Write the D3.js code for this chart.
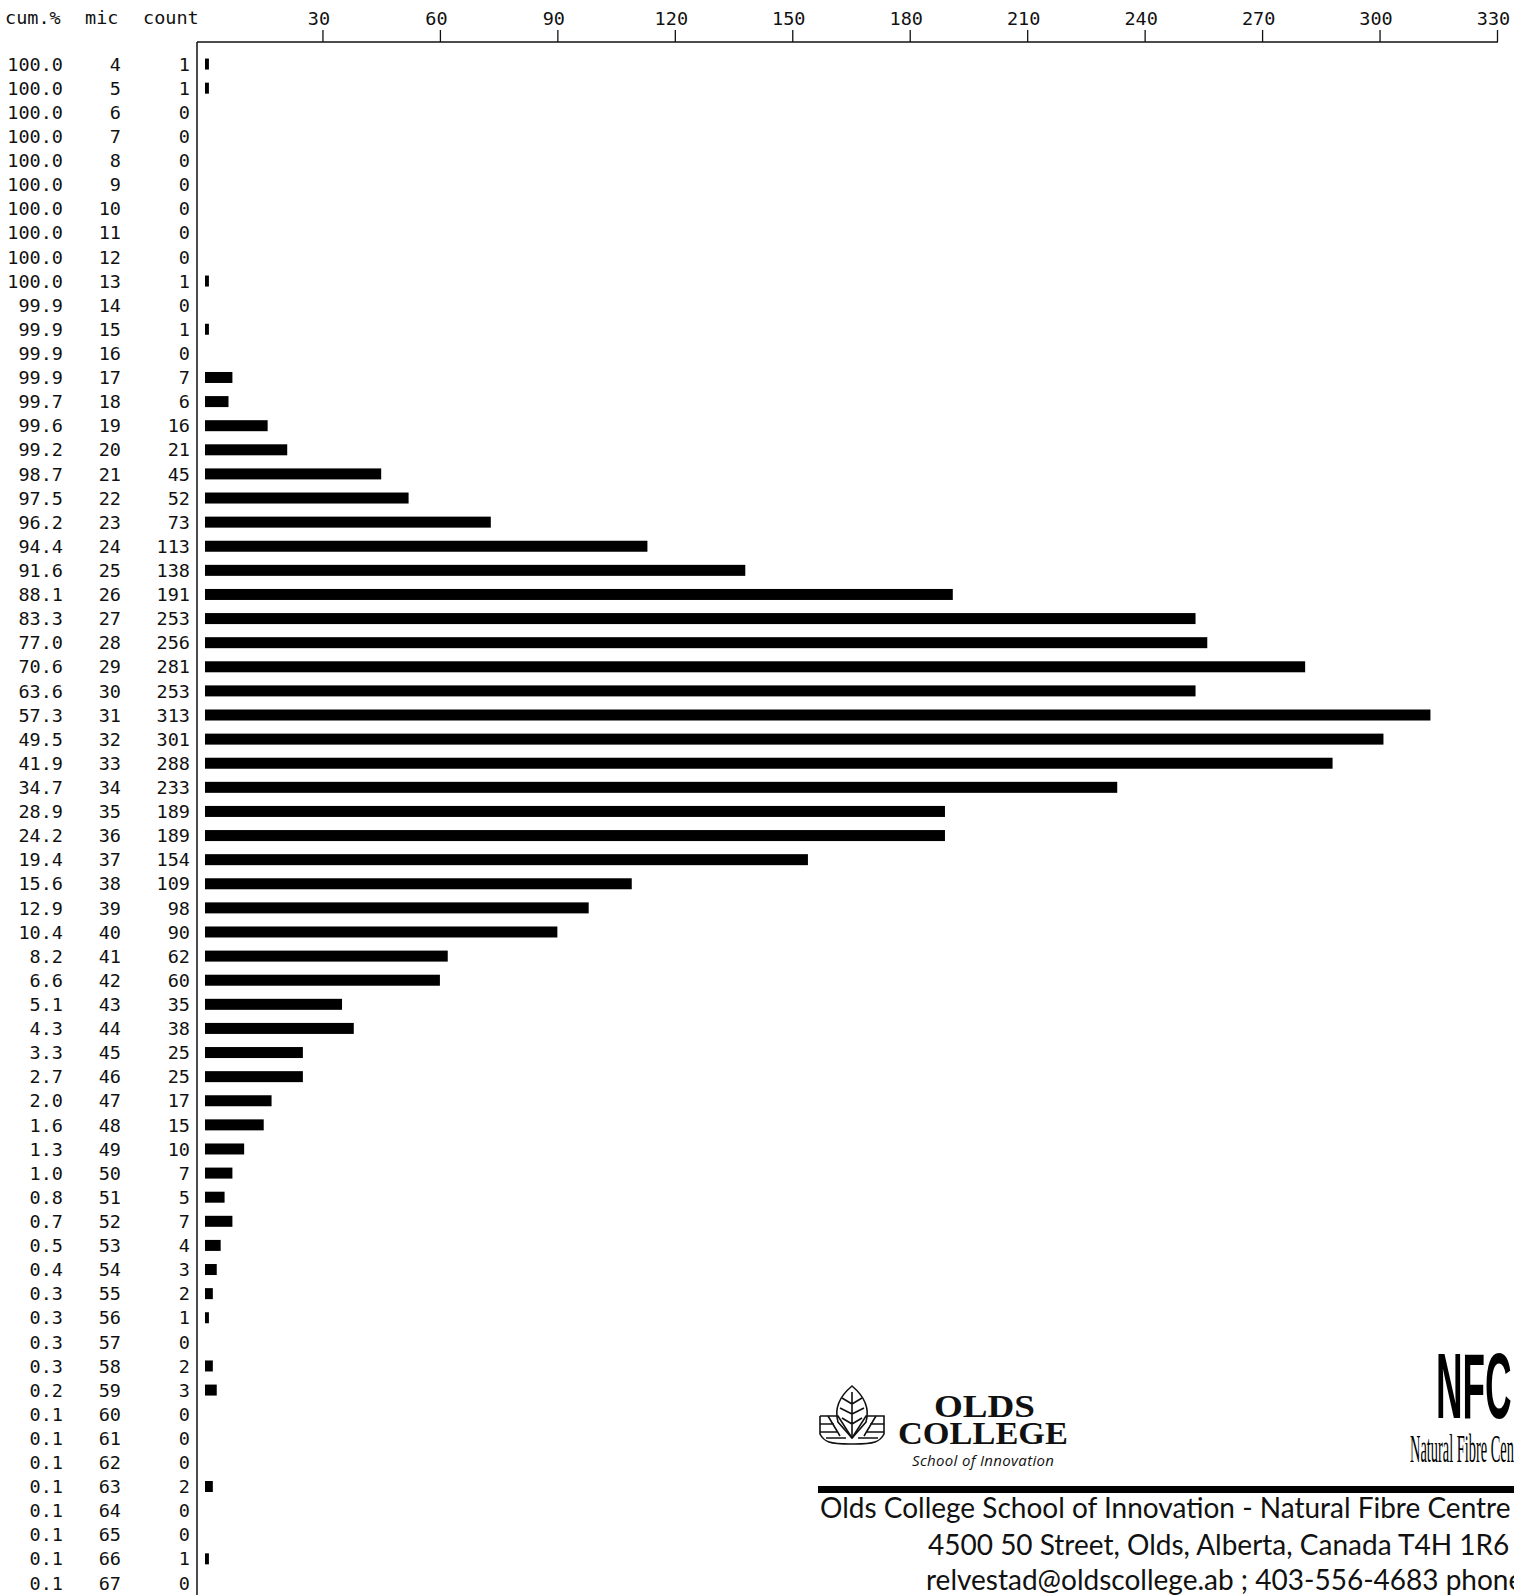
<!DOCTYPE html>
<html>
<head>
<meta charset="utf-8">
<script src="https://cdn.jsdelivr.net/npm/d3@7"></script>
<style>
  body { margin: 0; background: #fff; }
  svg { display: block; }
  .mono { font-family: "DejaVu Sans Mono", monospace; font-size: 18.5px; fill: #111; }
</style>
</head>
<body>
<svg id="chart" width="1514" height="1595"></svg>
<script>
// histogram rows: fibre diameter (mic), count per class, cumulative %
const mics = d3.range(4, 68);
const counts = [1, 1, 0, 0, 0, 0, 0, 0, 0, 1, 0, 1, 0, 7, 6, 16, 21, 45, 52, 73,
  113, 138, 191, 253, 256, 281, 253, 313, 301, 288, 233, 189, 189, 154, 109, 98,
  90, 62, 60, 35, 38, 25, 25, 17, 15, 10, 7, 5, 7, 4, 3, 2, 1, 0, 2, 3,
  0, 0, 0, 2, 0, 0, 1, 0];
const cumPct = [100.0, 100.0, 100.0, 100.0, 100.0, 100.0, 100.0, 100.0, 100.0, 100.0,
  99.9, 99.9, 99.9, 99.9, 99.7, 99.6, 99.2, 98.7, 97.5, 96.2, 94.4, 91.6, 88.1,
  83.3, 77.0, 70.6, 63.6, 57.3, 49.5, 41.9, 34.7, 28.9, 24.2, 19.4, 15.6, 12.9,
  10.4, 8.2, 6.6, 5.1, 4.3, 3.3, 2.7, 2.0, 1.6, 1.3, 1.0, 0.8, 0.7, 0.5, 0.4,
  0.3, 0.3, 0.3, 0.3, 0.2, 0.1, 0.1, 0.1, 0.1, 0.1, 0.1, 0.1, 0.1];
const xTicks = [30, 60, 90, 120, 150, 180, 210, 240, 270, 300, 330];

const rows = mics.map((m, i) => ({ mic: m, count: counts[i], cum: cumPct[i] }));

const svg = d3.select("#chart");

const x = d3.scaleLinear().domain([0, 330]).range([205, 1497]);
const y = d3.scaleBand().domain(mics).range([52, 1595]);
const barH = 11;
const axisX = 197, axisY = 42;

// headers
svg.append("text").attr("class", "mono").attr("x", 5).attr("y", 24).text("cum.%");
svg.append("text").attr("class", "mono").attr("x", 85).attr("y", 24).text("mic");
svg.append("text").attr("class", "mono").attr("x", 143).attr("y", 24).text("count");

// top axis with ticks pointing up
const axis = d3.axisTop(x).tickValues(xTicks).tickSize(12).tickPadding(5);
const ag = svg.append("g").attr("transform", `translate(0,${axisY})`).call(axis);
ag.select(".domain").attr("d", `M${axisX},0H1498`).attr("stroke", "#111").attr("stroke-width", 1.5);
ag.selectAll(".tick line").attr("stroke", "#111").attr("stroke-width", 1.3);
ag.selectAll(".tick text")
  .attr("font-family", "DejaVu Sans Mono, monospace")
  .attr("font-size", 18.5)
  .attr("fill", "#111")
  .attr("dx", -4);

// left vertical axis
svg.append("line")
  .attr("x1", axisX).attr("x2", axisX)
  .attr("y1", axisY).attr("y2", 1595)
  .attr("stroke", "#111").attr("stroke-width", 1.5);

const cy = d => y(d.mic) + y.bandwidth() / 2;

// table columns
const tg = svg.append("g").attr("class", "mono").attr("text-anchor", "end");
tg.selectAll("text.cum").data(rows).enter().append("text")
  .attr("x", 63).attr("y", cy).attr("dy", "0.36em")
  .text(d => d.cum.toFixed(1));
tg.selectAll("text.mic").data(rows).enter().append("text")
  .attr("x", 121).attr("y", cy).attr("dy", "0.36em")
  .text(d => d.mic);
tg.selectAll("text.cnt").data(rows).enter().append("text")
  .attr("x", 190).attr("y", cy).attr("dy", "0.36em")
  .text(d => d.count);

// bars
svg.append("g").selectAll("rect").data(rows.filter(d => d.count > 0)).enter().append("rect")
  .attr("x", x(0))
  .attr("y", d => cy(d) - barH / 2)
  .attr("width", d => Math.max(3.5, x(d.count) - x(0)))
  .attr("height", barH)
  .attr("fill", "#000");

// ---- footer: Olds College logo ----
const logo = svg.append("g").attr("transform", "translate(820,1386)")
  .attr("fill", "none").attr("stroke", "#111").attr("stroke-width", 1.6);
logo.append("path").attr("d", "M32,0 C20,10 14,22 18,36 L32,52 L46,36 C50,22 44,10 32,0 Z");
logo.append("path").attr("d", "M32,6 V52 M32,18 L22,12 M32,18 L42,12 M32,28 L20,22 M32,28 L44,22 M32,38 L22,32 M32,38 L42,32");
logo.append("path").attr("d", "M0,30 H18 L32,52 M0,30 V48 C4,56 10,58 30,58 H34 C54,58 60,56 64,48 V30 H46 L32,52");
logo.append("path").attr("d", "M0,38 H14 M0,46 H18 M64,38 H50 M64,46 H46 M6,52 H26 M58,52 H38 M8,30 L20,50 M56,30 L44,50");

svg.append("text").attr("x", 934).attr("y", 1417)
  .attr("font-family", "Liberation Serif, serif").attr("font-weight", "bold")
  .attr("font-size", 31).attr("textLength", 101).attr("lengthAdjust", "spacingAndGlyphs")
  .attr("fill", "#111").text("OLDS");
svg.append("text").attr("x", 898).attr("y", 1444)
  .attr("font-family", "Liberation Serif, serif").attr("font-weight", "bold")
  .attr("font-size", 31).attr("textLength", 170).attr("lengthAdjust", "spacingAndGlyphs")
  .attr("fill", "#111").text("COLLEGE");
svg.append("text").attr("x", 912).attr("y", 1466)
  .attr("font-family", "Open Sans, sans-serif").attr("font-style", "italic")
  .attr("font-size", 15).attr("textLength", 142).attr("fill", "#111").text("School of Innovation");

// ---- NFC logo (cut at page edge) ----
svg.append("text")
  .attr("transform", "translate(1436,1418) scale(0.4,1)")
  .attr("font-family", "Liberation Sans, sans-serif").attr("font-weight", "bold")
  .attr("font-size", 92).attr("fill", "#000").text("NFC");
svg.append("text")
  .attr("transform", "translate(1410,1462) scale(0.36,1)")
  .attr("font-family", "Liberation Serif, serif")
  .attr("font-size", 40).attr("fill", "#000").text("Natural Fibre Centre");

// thick rule and address block
svg.append("rect").attr("x", 818).attr("y", 1486).attr("width", 700).attr("height", 7).attr("fill", "#000");
const addr = ["Olds College School of Innovation - Natural Fibre Centre",
  "4500 50 Street, Olds, Alberta, Canada T4H 1R6",
  "relvestad@oldscollege.ab ; 403-556-4683 phone"];
const addrX = [820, 928, 926];
const addrY = [1518, 1555, 1590];
svg.append("g").selectAll("text").data(addr).enter().append("text")
  .attr("x", (d, i) => addrX[i]).attr("y", (d, i) => addrY[i])
  .attr("font-family", "Comic Sans MS, Lato, sans-serif")
  .attr("font-size", 28).attr("fill", "#111")
  .text(d => d);
</script>
</body>
</html>
